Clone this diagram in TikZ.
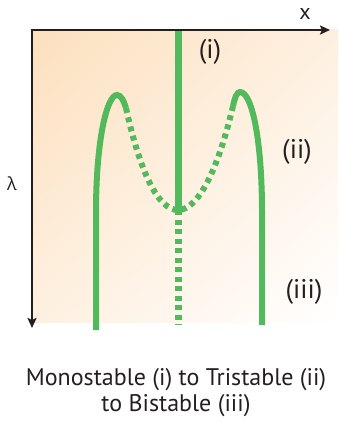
\documentclass[tikz,border=0pt]{standalone}
\usepackage{fontspec}
\setmainfont{PT Sans}
\newfontfamily\greekfont{Open Sans}
\usetikzlibrary{positioning, arrows.meta, calc, shadings}
\definecolor{warmbg}{RGB}{252, 224, 190}
\definecolor{warmmid}{RGB}{254, 240, 224}
\definecolor{branchgreen}{RGB}{82, 186, 92}
\definecolor{axisdark}{RGB}{35, 31, 32}

\begin{document}
\begin{tikzpicture}[x=1pt, y=-1pt,
    stable/.style={draw=branchgreen, line width=6pt},
    unstable/.style={draw=branchgreen, line width=6pt, dash pattern=on 5pt off 4.5pt},
    axisline/.style={draw=axisdark, line width=2.6pt, line cap=rect, -{Stealth[length=10pt, width=9pt, inset=2pt]}},
    branchlabel/.style={text=axisdark, font=\fontsize{27}{30}\selectfont}]
\useasboundingbox (0,0) rectangle (338,422);
% background
\shade[upper left=warmbg, upper right=warmmid, lower left=warmmid, lower right=white]
    (32,30) rectangle (338,322);

% key points
\coordinate (origin) at (32,30);
\coordinate (xend) at (330,30);
\coordinate (lend) at (32,328);
\coordinate (leftfoot) at (96,330);
\coordinate (leftjoin) at (96,212);
\coordinate (leftpeak) at (117,95);
\coordinate (rightpeak) at (240,92);
\coordinate (rightjoin) at (262,212);
\coordinate (rightfoot) at (262,325);
\coordinate (midtop) at (178,30);
\coordinate (midlow) at (178,210);
\coordinate (midfoot) at (178,325);

% branches
\draw[stable, line width=7pt] (midtop) -- (midlow);
\draw[unstable, line width=7pt] (midlow) -- (midfoot);
\draw[stable] (leftfoot) -- (leftjoin)
    .. controls (96,140) and (107,95) .. (leftpeak)
    .. controls (121,95) and (124,101) .. (126,108);
\draw[unstable] (126,108) .. controls (140,172) and (158,210) .. (midlow)
    .. controls (198,210) and (218,170) .. (233,106);
\draw[stable] (233,106) .. controls (235,97) and (237,92) .. (rightpeak)
    .. controls (252,92) and (262,140) .. (rightjoin) -- (rightfoot);

% axes
\draw[axisline] (origin) -- (xend);
\draw[axisline] (origin) -- (lend);
\node[branchlabel, font=\fontsize{22}{24}\selectfont] (xlab) at (305,14) {x};
\node[branchlabel, font=\greekfont\fontsize{18}{20}\selectfont] (lamlab) at (12,184) {λ};

% labels
\node[branchlabel] (lab1) at (210,52) {(i)};
\node[branchlabel] (lab2) at (297,152) {(ii)};
\node[branchlabel] (lab3) at (304,292) {(iii)};

\node[text=axisdark, align=center, font=\fontsize{24}{26}\selectfont] (caption) at (176,393)
    {Monostable (i) to Tristable (ii)\\to Bistable (iii)};
\end{tikzpicture}
\end{document}
